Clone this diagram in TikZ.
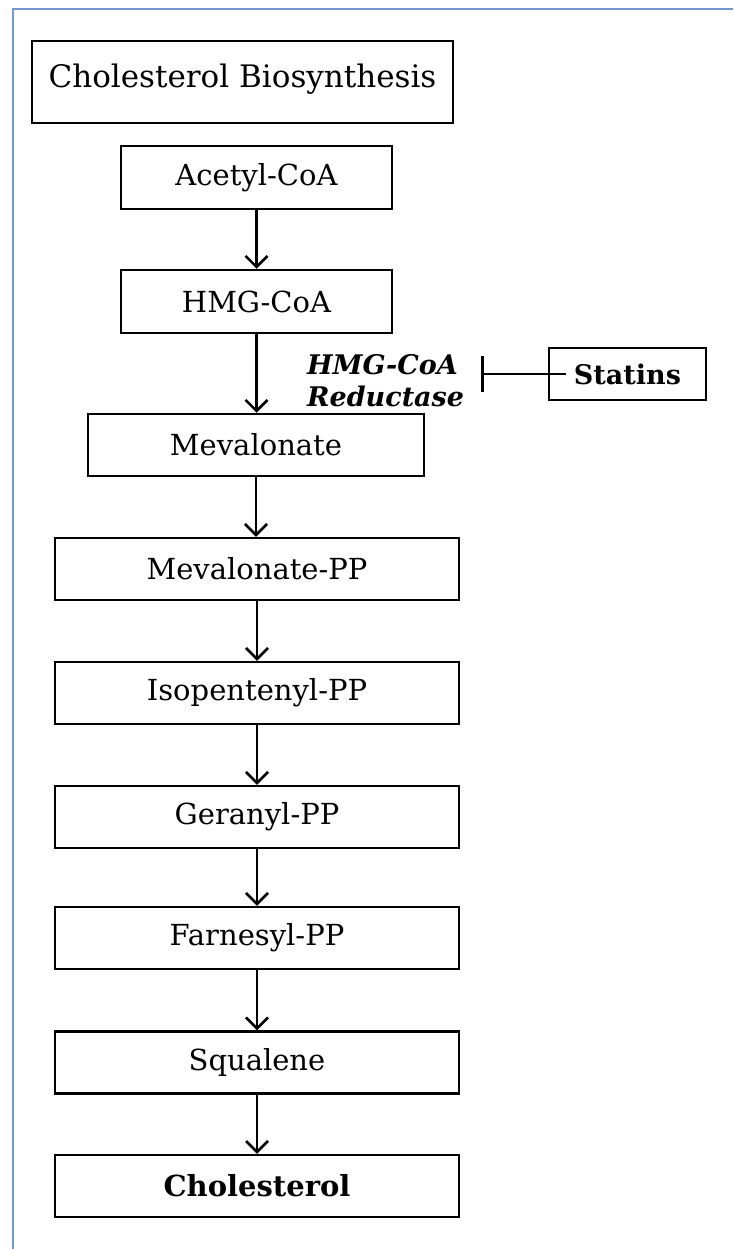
\documentclass[tikz,border=0pt]{standalone}
\usepackage{fontspec}
\setmainfont{DejaVu Serif}
\usepackage{tikz}
\usetikzlibrary{arrows.meta}
\definecolor{frameblue}{RGB}{115,150,205}

\begin{document}
\begin{tikzpicture}[x=1pt,y=-1pt,
    stepbox/.style={draw,line width=2.5pt,inner sep=0pt,minimum height=62pt,font=\fontsize{29}{34}\selectfont},
    flow/.style={line width=2.5pt,-{Straight Barb[length=11pt,width=22pt]}}]
      \useasboundingbox (0,0) rectangle (733,1249);
      \draw[line width=2.5pt,frameblue] (13,1249) -- (13,9) -- (733,9);
      \node[draw,line width=2.5pt,inner sep=0pt,minimum width=421pt,minimum height=82pt,text height=24pt,text depth=12pt,font=\fontsize{31}{36}\selectfont] (title) at (242.5,82) {Cholesterol Biosynthesis};
      \node[stepbox,minimum width=271pt,minimum height=63pt] (acetyl) at (256.5,177.5) {Acetyl-CoA};
      \node[stepbox,minimum width=271pt,minimum height=63pt] (hmg) at (256.5,301.5) {HMG-CoA};
      \node[stepbox,minimum width=336pt] (meva) at (256,445) {Mevalonate};
      \node[stepbox,minimum width=404pt] (mevapp) at (257,569) {Mevalonate-PP};
      \node[stepbox,minimum width=404pt] (ipp) at (257,693) {Isopentenyl-PP};
      \node[stepbox,minimum width=404pt] (gpp) at (257,817) {Geranyl-PP};
      \node[stepbox,minimum width=404pt] (fpp) at (257,938) {Farnesyl-PP};
      \node[stepbox,minimum width=404pt] (squalene) at (257,1062.5) {Squalene};
      \node[stepbox,minimum width=404pt,font=\fontsize{29}{34}\selectfont\bfseries] (chol) at (257,1186) {Cholesterol};
      \node[anchor=west,align=left,inner sep=0pt,font=\fontsize{27}{32}\selectfont\bfseries\itshape] (enzyme) at (307,381) {HMG-CoA\\Reductase};
      \node[draw,line width=2.5pt,inner sep=0pt,minimum width=157pt,minimum height=52pt,font=\fontsize{27}{32}\selectfont\bfseries] (statins) at (627.5,374) {Statins};
      \coordinate (block) at (481,374);
      \draw[line width=2.5pt,-{Bar[width=36pt]}] ([xshift=18pt]statins.west) -- (block);
      \draw[flow] (acetyl.south) -- (acetyl.south |- hmg.north);
      \draw[flow] (hmg.south) -- (hmg.south |- meva.north);
      \draw[flow] (meva.south) -- (meva.south |- mevapp.north);
      \draw[flow] (mevapp.south) -- (mevapp.south |- ipp.north);
      \draw[flow] (ipp.south) -- (ipp.south |- gpp.north);
      \draw[flow] (gpp.south) -- (gpp.south |- fpp.north);
      \draw[flow] (fpp.south) -- (fpp.south |- squalene.north);
      \draw[flow] (squalene.south) -- (squalene.south |- chol.north);
    \end{tikzpicture}
\end{document}
